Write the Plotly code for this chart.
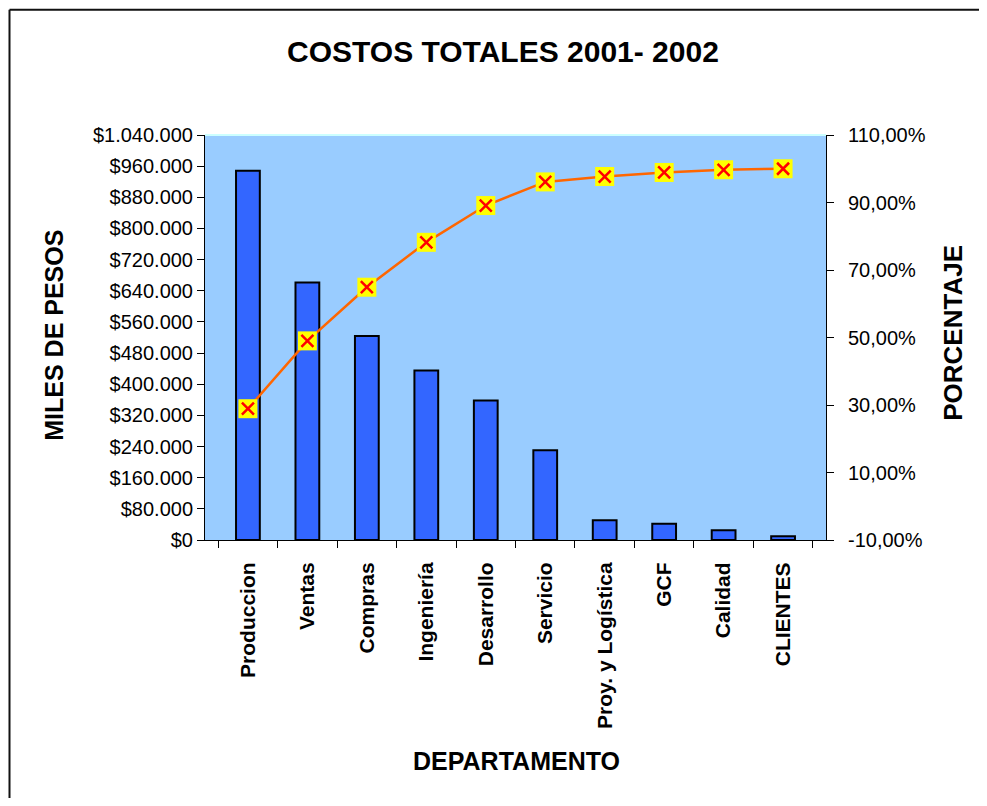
import plotly.graph_objects as go

# ---- data ----
DEPARTMENTS = ["Produccion", "Ventas", "Compras", "Ingeniería", "Desarrollo",
               "Servicio", "Proy. y Logística", "GCF", "Calidad", "CLIENTES"]
COSTS = [948400, 661200, 523700, 435500, 358500, 230300, 50800, 41500, 25100, 9700]
CUM_PCT = [28.9, 49.0, 64.9, 78.2, 89.1, 96.1, 97.7, 98.9, 99.7, 100.0]

LEFT_TICK_VALUES = [0, 80000, 160000, 240000, 320000, 400000, 480000, 560000,
                    640000, 720000, 800000, 880000, 960000, 1040000]
LEFT_TICK_LABELS = ["$0", "$80.000", "$160.000", "$240.000", "$320.000", "$400.000",
                    "$480.000", "$560.000", "$640.000", "$720.000", "$800.000",
                    "$880.000", "$960.000", "$1.040.000"]
RIGHT_TICK_VALUES = [-10, 10, 30, 50, 70, 90, 110]
RIGHT_TICK_LABELS = ["-10,00%", "10,00%", "30,00%", "50,00%", "70,00%", "90,00%", "110,00%"]

TITLE = "COSTOS TOTALES 2001- 2002"
Y_TITLE = "MILES DE PESOS"
Y2_TITLE = "PORCENTAJE"
X_TITLE = "DEPARTAMENTO"

FONT = "Liberation Sans, Arial, sans-serif"

# page has an 8px body margin, so the figure is offset by (8, 8)
OFF = 8
W, H = 971, 790
PLOT_X0, PLOT_X1, PLOT_Y0, PLOT_Y1 = 205, 826, 135, 540.5  # page pixels
L = PLOT_X0 - OFF
T = PLOT_Y0 - OFF
R = W - (PLOT_X1 - OFF)
B = H - (PLOT_Y1 - OFF)
PW, PH = W - L - R, H - T - B


def px_x(px):
    return (px - OFF - L) / PW


def px_y(py):
    return (H - B - (py - OFF)) / PH


fig = go.Figure()

fig.add_trace(go.Bar(
    x=DEPARTMENTS, y=COSTS,
    marker=dict(color="#3366FF", line=dict(color="black", width=2)),
    yaxis="y", showlegend=False,
))

fig.add_trace(go.Scatter(
    x=DEPARTMENTS, y=CUM_PCT, yaxis="y2", mode="lines+markers",
    line=dict(color="#FF6600", width=2.5),
    marker=dict(symbol="square", size=19, color="#FFFF00", line=dict(width=0)),
    showlegend=False, cliponaxis=False,
))

fig.add_trace(go.Scatter(
    x=DEPARTMENTS, y=CUM_PCT, yaxis="y2", mode="markers",
    marker=dict(symbol="x-thin-open", size=12, color="#FF0000",
                line=dict(color="#FF0000", width=2.5)),
    showlegend=False, cliponaxis=False,
))

fig.update_layout(
    width=W, height=H,
    margin=dict(l=L, r=R, t=T, b=B),
    paper_bgcolor="white",
    plot_bgcolor="#99CCFF",
    font=dict(family=FONT, size=20, color="black"),
    bargap=0.6,
    xaxis=dict(
        type="category", categoryorder="array", categoryarray=DEPARTMENTS,
        tickson="boundaries", ticks="outside", ticklen=7, tickcolor="black",
        showline=True, linecolor="black", linewidth=1, mirror=False,
        showgrid=False, tickangle=-90,
        tickfont=dict(family=FONT, size=21, color="black", weight="bold"),
        ticklabelstandoff=13,
    ),
    yaxis=dict(
        range=[0, 1040000], tickvals=LEFT_TICK_VALUES, ticktext=LEFT_TICK_LABELS,
        ticks="outside", ticklen=7, tickcolor="black",
        showline=True, linecolor="black", linewidth=1,
        showgrid=False, zeroline=False,
        tickfont=dict(family=FONT, size=20, color="black"),
    ),
    yaxis2=dict(
        overlaying="y", side="right", range=[-10, 110],
        tickvals=RIGHT_TICK_VALUES, ticktext=RIGHT_TICK_LABELS,
        ticks="outside", ticklen=7, tickcolor="black",
        showline=True, linecolor="black", linewidth=1,
        showgrid=False, zeroline=False,
        tickfont=dict(family=FONT, size=20, color="black"),
        ticklabelstandoff=10,
    ),
    shapes=[
        # chart border (only top and left edges are inside the view)
        dict(type="line", xref="paper", yref="paper",
             x0=px_x(9.5), x1=px_x(1300), y0=px_y(9.5), y1=px_y(9.5),
             line=dict(color="#111111", width=2), layer="above"),
        dict(type="line", xref="paper", yref="paper",
             x0=px_x(9.5), x1=px_x(9.5), y0=px_y(9.5), y1=px_y(1300),
             line=dict(color="#111111", width=2), layer="above"),
        dict(type="line", xref="paper", yref="paper", x0=0, x1=1, y0=1, y1=1,
             line=dict(color="#CCFFFF", width=2), layer="above"),
    ],
    annotations=[
        dict(text="<b>" + TITLE + "</b>", xref="paper", yref="paper",
             x=px_x(502.5), y=px_y(51), xanchor="center", yanchor="middle",
             showarrow=False, font=dict(family=FONT, size=30, color="black")),
        dict(text="<b>" + Y_TITLE + "</b>", xref="paper", yref="paper",
             x=px_x(54), y=px_y(336), xanchor="center", yanchor="middle",
             textangle=-90, showarrow=False, font=dict(family=FONT, size=25, color="black")),
        dict(text="<b>" + Y2_TITLE + "</b>", xref="paper", yref="paper",
             x=px_x(953), y=px_y(333), xanchor="center", yanchor="middle",
             textangle=-90, showarrow=False, font=dict(family=FONT, size=26, color="black")),
        dict(text="<b>" + X_TITLE + "</b>", xref="paper", yref="paper",
             x=px_x(516), y=px_y(762), xanchor="center", yanchor="middle",
             showarrow=False, font=dict(family=FONT, size=25, color="black")),
    ],
)

fig.write_html("out.html")
